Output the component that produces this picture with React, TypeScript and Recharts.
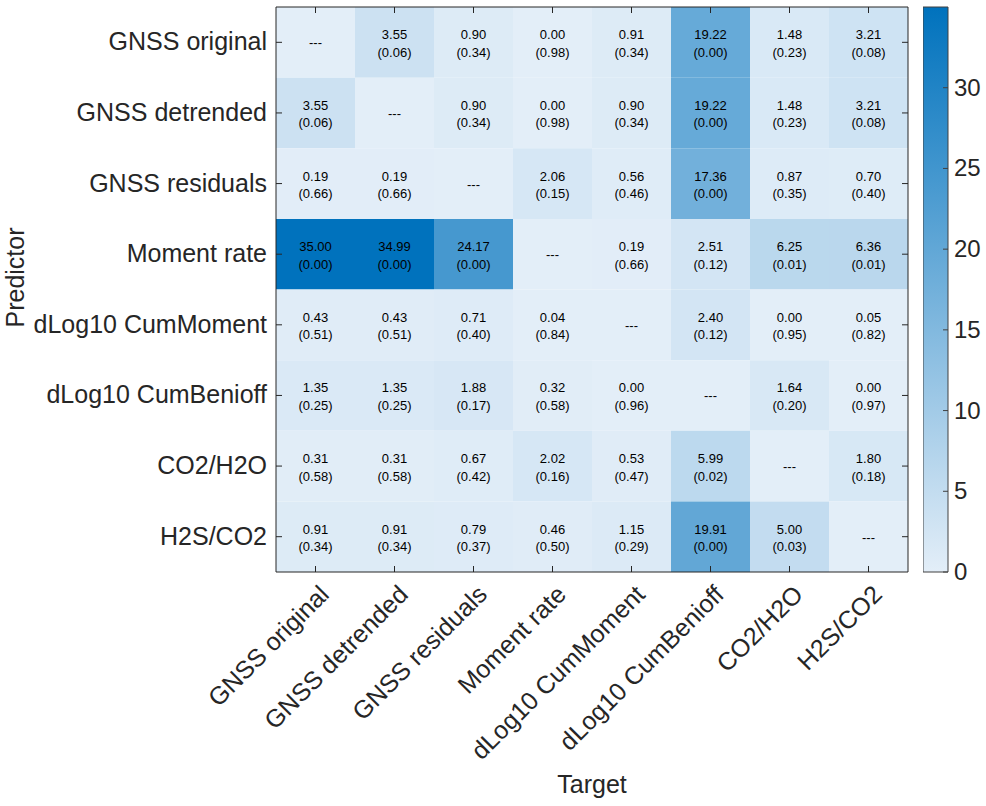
import React from 'react';
import { ScatterChart, Scatter, XAxis, YAxis, ReferenceArea } from 'recharts';

const targets = ['GNSS original', 'GNSS detrended', 'GNSS residuals', 'Moment rate', 'dLog10 CumMoment', 'dLog10 CumBenioff', 'CO2/H2O', 'H2S/CO2'];
const predictors = ['GNSS original', 'GNSS detrended', 'GNSS residuals', 'Moment rate', 'dLog10 CumMoment', 'dLog10 CumBenioff', 'CO2/H2O', 'H2S/CO2'];

const fStats: (number | null)[][] = [
  [null, 3.55, 0.90, 0.00, 0.91, 19.22, 1.48, 3.21],
  [3.55, null, 0.90, 0.00, 0.90, 19.22, 1.48, 3.21],
  [0.19, 0.19, null, 2.06, 0.56, 17.36, 0.87, 0.70],
  [35.00, 34.99, 24.17, null, 0.19, 2.51, 6.25, 6.36],
  [0.43, 0.43, 0.71, 0.04, null, 2.40, 0.00, 0.05],
  [1.35, 1.35, 1.88, 0.32, 0.00, null, 1.64, 0.00],
  [0.31, 0.31, 0.67, 2.02, 0.53, 5.99, null, 1.80],
  [0.91, 0.91, 0.79, 0.46, 1.15, 19.91, 5.00, null],
];

const pValues: (number | null)[][] = [
  [null, 0.06, 0.34, 0.98, 0.34, 0.00, 0.23, 0.08],
  [0.06, null, 0.34, 0.98, 0.34, 0.00, 0.23, 0.08],
  [0.66, 0.66, null, 0.15, 0.46, 0.00, 0.35, 0.40],
  [0.00, 0.00, 0.00, null, 0.66, 0.12, 0.01, 0.01],
  [0.51, 0.51, 0.40, 0.84, null, 0.12, 0.95, 0.82],
  [0.25, 0.25, 0.17, 0.58, 0.96, null, 0.20, 0.97],
  [0.58, 0.58, 0.42, 0.16, 0.47, 0.02, null, 0.18],
  [0.34, 0.34, 0.37, 0.50, 0.29, 0.00, 0.03, null],
];

const colorbarTicks = [0, 5, 10, 15, 20, 25, 30];
const colorMax = 35;

const LOW = [227, 238, 248];
const HIGH = [0, 114, 189];
const toHex = (c: number[]) => '#' + c.map((v) => Math.round(v).toString(16).padStart(2, '0')).join('');
const colorFor = (v: number | null) => {
  const t = Math.max(0, Math.min(1, (v ?? 0) / colorMax));
  return toHex(LOW.map((l, i) => l + (HIGH[i] - l) * t));
};

const FONT = '"Liberation Sans", Arial, Helvetica, sans-serif';
const AXIS_COLOR = '#262626';
const LABEL_SIZE = 25;

const cells: { x: number; y: number; v: number | null; p: number | null }[] = [];
predictors.forEach((_, r) => {
  targets.forEach((__, c) => {
    cells.push({ x: c, y: r, v: fStats[r][c], p: pValues[r][c] });
  });
});

const idx = [0, 1, 2, 3, 4, 5, 6, 7];
const LO = -0.5;
const HI = 7.5;

// tick mark positions on the four sides of the frame (in data units)
const frameTicks: { x: number; y: number; side: string }[] = [
  ...idx.map((i) => ({ x: i, y: HI, side: 'bottom' })),
  ...idx.map((i) => ({ x: i, y: LO, side: 'top' })),
  ...idx.map((i) => ({ x: LO, y: i, side: 'left' })),
  ...idx.map((i) => ({ x: HI, y: i, side: 'right' })),
];

const TickMark = (props: any) => {
  const { cx, cy, payload } = props;
  if (cx == null || cy == null) return null;
  const L = 6;
  let d = { x2: cx, y2: cy };
  if (payload.side === 'bottom') d = { x2: cx, y2: cy - L };
  if (payload.side === 'top') d = { x2: cx, y2: cy + L };
  if (payload.side === 'left') d = { x2: cx + L, y2: cy };
  if (payload.side === 'right') d = { x2: cx - L, y2: cy };
  return <line x1={cx} y1={cy} x2={d.x2} y2={d.y2} stroke={AXIS_COLOR} strokeWidth={1} />;
};

const CellText = (props: any) => {
  const { cx, cy, payload } = props;
  if (cx == null || cy == null) return null;
  if (payload.v == null) {
    return (
      <text x={cx} y={cy + 5} textAnchor="middle" fontFamily={FONT} fontSize={13} fill="#000">
        ---
      </text>
    );
  }
  return (
    <g>
      <text x={cx} y={cy - 3} textAnchor="middle" fontFamily={FONT} fontSize={13} fill="#000">
        {payload.v.toFixed(2)}
      </text>
      <text x={cx} y={cy + 14.5} textAnchor="middle" fontFamily={FONT} fontSize={13} fill="#000">
        {'(' + payload.p.toFixed(2) + ')'}
      </text>
    </g>
  );
};

const BottomTick = (props: any) => {
  const { x, y, payload } = props;
  const ax = x + 15;
  const ay = y + 24;
  return (
    <text
      x={ax}
      y={ay}
      textAnchor="end"
      transform={`rotate(-45, ${ax}, ${ay})`}
      fontFamily={FONT}
      fontSize={LABEL_SIZE}
      fill={AXIS_COLOR}
    >
      {targets[payload.value]}
    </text>
  );
};

const LeftTick = (props: any) => {
  const { x, y, payload } = props;
  return (
    <text x={x - 9} y={y + 8} textAnchor="end" fontFamily={FONT} fontSize={LABEL_SIZE} fill={AXIS_COLOR}>
      {predictors[payload.value]}
    </text>
  );
};

const CbTick = (props: any) => {
  const { x, y, payload } = props;
  return (
    <text x={x + 6} y={y + 8} textAnchor="start" fontFamily={FONT} fontSize={24} fill={AXIS_COLOR}>
      {payload.value}
    </text>
  );
};

const CbTickMark = (props: any) => {
  const { cx, cy } = props;
  if (cx == null || cy == null) return null;
  return <line x1={cx} y1={cy} x2={cx - 5} y2={cy} stroke="#404040" strokeWidth={1} />;
};

const cbTickData = colorbarTicks.map((t) => ({ x: 1, y: t }));

export default function App() {
  return (
    <div style={{ position: 'absolute', left: 0, top: 0, width: 986, height: 806, background: '#fff' }}>
      <div style={{ position: 'absolute', left: 0, top: 0 }}>
        <ScatterChart width={910} height={806} margin={{ top: 7, right: 2, bottom: 0, left: 0 }}>
          {cells.map((c, i) => (
            <ReferenceArea
              key={i}
              x1={c.x - 0.5}
              x2={c.x + 0.5}
              y1={c.y - 0.5}
              y2={c.y + 0.5}
              fill={colorFor(c.v)}
              fillOpacity={1}
              stroke="none"
              ifOverflow="visible"
            />
          ))}
          <ReferenceArea
            x1={LO}
            x2={HI}
            y1={LO}
            y2={HI}
            fill="none"
            fillOpacity={0}
            stroke={AXIS_COLOR}
            strokeWidth={1}
            strokeOpacity={1}
            ifOverflow="visible"
          />
          <XAxis
            dataKey="x"
            type="number"
            domain={[LO, HI]}
            ticks={idx}
            height={234}
            tickSize={0}
            tickMargin={0}
            tickLine={false}
            axisLine={false}
            tick={<BottomTick />}
            interval={0}
            label={{ value: 'Target', position: 'insideBottom', offset: 13, fontSize: 25, fontFamily: FONT, fill: AXIS_COLOR }}
          />
          <YAxis
            dataKey="y"
            type="number"
            domain={[LO, HI]}
            reversed
            ticks={idx}
            width={276}
            tickSize={0}
            tickMargin={0}
            tickLine={false}
            axisLine={false}
            tick={<LeftTick />}
            interval={0}
            label={{
              content: (p: any) => {
                const vb = p.viewBox;
                const cx = vb.x + 24;
                const cy = vb.y + vb.height / 2 - 12;
                return (
                  <text
                    x={cx}
                    y={cy}
                    textAnchor="middle"
                    transform={`rotate(-90, ${cx}, ${cy})`}
                    fontFamily={FONT}
                    fontSize={25}
                    fill={AXIS_COLOR}
                  >
                    Predictor
                  </text>
                );
              },
            }}
          />
          <Scatter data={cells} isAnimationActive={false} shape={(p: any) => <CellText {...p} />} />
          <Scatter data={frameTicks} isAnimationActive={false} shape={(p: any) => <TickMark {...p} />} />
        </ScatterChart>
      </div>
      <div style={{ position: 'absolute', left: 923, top: 0 }}>
        <ScatterChart width={63} height={806} margin={{ top: 7, right: 0, bottom: 234, left: 0 }}>
          <defs>
            <linearGradient id="cbGrad" x1="0" y1="1" x2="0" y2="0">
              <stop offset="0" stopColor={colorFor(0)} />
              <stop offset="1" stopColor={colorFor(colorMax)} />
            </linearGradient>
          </defs>
          <ReferenceArea
            x1={0}
            x2={1}
            y1={0}
            y2={colorMax}
            fill="url(#cbGrad)"
            fillOpacity={1}
            stroke="#404040"
            strokeWidth={1}
            ifOverflow="visible"
          />
          <XAxis dataKey="x" type="number" domain={[0, 1]} height={0} tick={false} tickLine={false} axisLine={false} />
          <YAxis
            dataKey="y"
            orientation="right"
            type="number"
            domain={[0, colorMax]}
            ticks={colorbarTicks}
            width={38}
            tickSize={0}
            tickMargin={0}
            tickLine={false}
            axisLine={false}
            tick={<CbTick />}
            interval={0}
          />
          <Scatter data={cbTickData} isAnimationActive={false} shape={(p: any) => <CbTickMark {...p} />} />
        </ScatterChart>
      </div>
    </div>
  );
}
